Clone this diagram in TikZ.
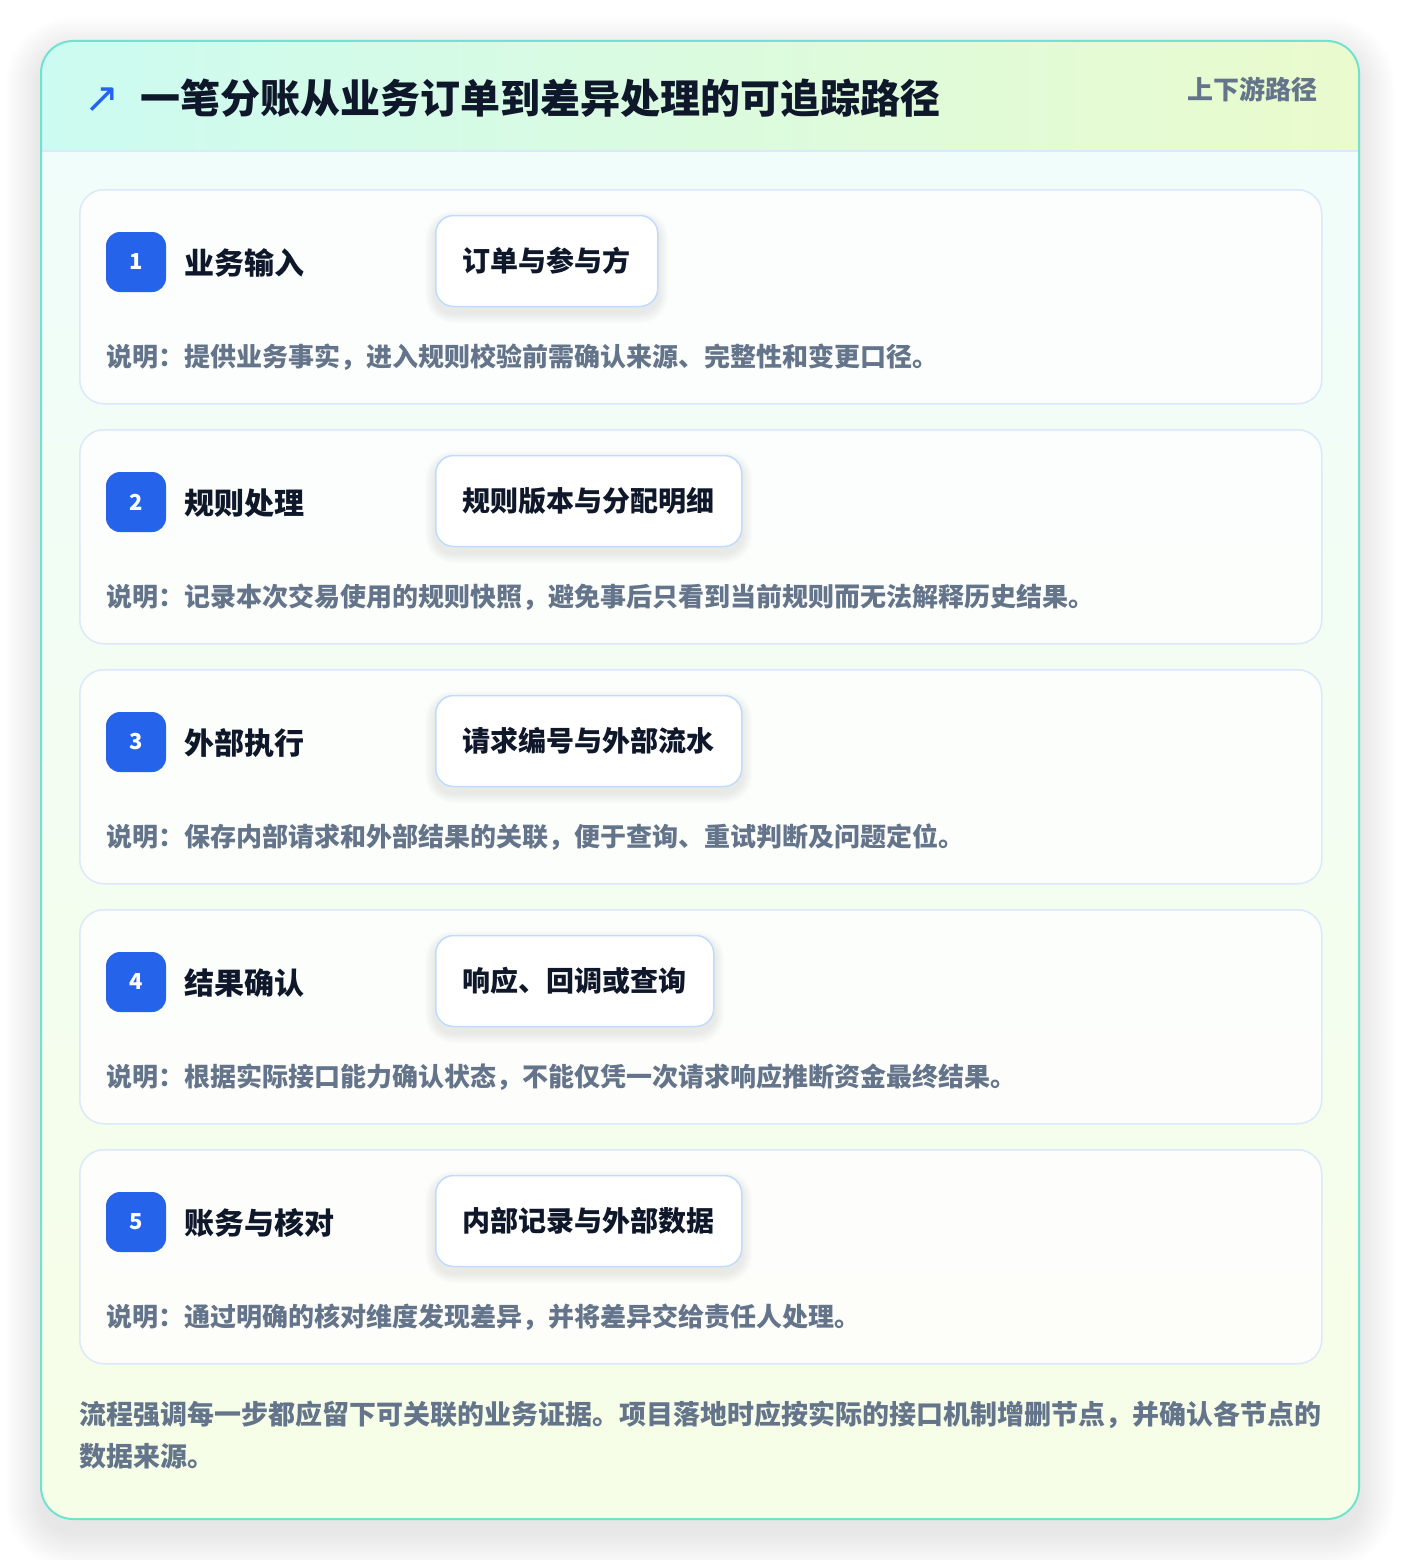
\documentclass[tikz,border=0pt]{standalone}
\usepackage{fontspec}
\setmainfont{Noto Sans CJK SC}
\newfontfamily\arrowfont{DejaVu Sans}
\usetikzlibrary{calc}
\pgfdeclarelayer{back}
\pgfdeclarelayer{soft}
\pgfsetlayers{back,soft,main}
\definecolor{cardline}{HTML}{6FE3CF}
\definecolor{headL}{HTML}{CCFBF1}
\definecolor{headR}{HTML}{EAFBCD}
\definecolor{bodyT}{HTML}{F0FDFA}
\definecolor{bodyB}{HTML}{F7FEE7}
\definecolor{stepline}{HTML}{DCE8FB}
\definecolor{chipline}{HTML}{BFDBFE}
\definecolor{badgeblue}{HTML}{2563EB}
\definecolor{ink}{HTML}{0F172A}
\definecolor{note}{HTML}{64748B}
\tikzset{
  stepcard/.style={draw=stepline, line width=1.5pt, fill=white, fill opacity=0.8, rounded corners=24pt, minimum width=1242pt, minimum height=214pt, anchor=north west, inner sep=0pt},
  badge/.style={fill=badgeblue, text=white, rounded corners=14pt, minimum size=60pt, inner sep=0pt, font=\fontsize{22}{22}\selectfont\bfseries},
  steptitle/.style={anchor=west, inner sep=0pt, text=ink, font=\fontsize{30}{30}\selectfont\bfseries},
  chipbox/.style={draw=chipline, line width=1.5pt, fill=white, rounded corners=18pt, minimum height=91pt, inner xsep=27pt, anchor=west, text=ink, font=\fontsize{28}{28}\selectfont\bfseries},
  softshade/.style={fill=black, opacity=0.007},
  stepnote/.style={anchor=west, inner sep=0pt, text=note, font=\fontsize{26}{26}\selectfont\bfseries},
  footnote/.style={anchor=west, inner sep=0pt, text=note, font=\fontsize{27}{27}\selectfont\bfseries}
}
\begin{document}
\begin{tikzpicture}[x=1pt, y=-1pt]
    \useasboundingbox (0,0) rectangle (1400,1560);
    \begin{pgfonlayer}{back}
    \fill[white] (0,0) rectangle (1400,1560);
    \foreach \k in {1,...,24}{
        \pgfmathsetmacro\r{32+1.5*\k}
        \fill[black, opacity=0.0038, rounded corners=\r pt] (41-1.5*\k,53-1.5*\k) rectangle (1359+1.5*\k,1533+1.5*\k);
    }
    \begin{scope}
        \clip[rounded corners=32pt] (41,41) rectangle (1359,1519);
        \shade[left color=headL, right color=headR] (41,41) rectangle (1359,151);
        \shade[top color=bodyT, bottom color=bodyB] (41,151) rectangle (1359,1519);
        \draw[stepline, line width=1.5pt] (41,151) -- (1359,151);
    \end{scope}
    \draw[cardline, line width=2pt, rounded corners=32pt] (41,41) rectangle (1359,1519);
    \end{pgfonlayer}
    \node[text=badgeblue, font=\arrowfont\fontsize{42}{42}\selectfont] (arrow) at (102,100) {↗};
    \node[anchor=west, inner sep=0pt, text=ink, font=\fontsize{40}{40}\selectfont\bfseries] (title) at (140,98) {一笔分账从业务订单到差异处理的可追踪路径};
    \node[anchor=east, inner sep=0pt, text=note, font=\fontsize{26}{26}\selectfont\bfseries] (tag) at (1318,89) {上下游路径};
    \foreach \i/\name/\chip/\desc in {
        1/业务输入/订单与参与方/说明：提供业务事实，进入规则校验前需确认来源、完整性和变更口径。,
        2/规则处理/规则版本与分配明细/说明：记录本次交易使用的规则快照，避免事后只看到当前规则而无法解释历史结果。,
        3/外部执行/请求编号与外部流水/说明：保存内部请求和外部结果的关联，便于查询、重试判断及问题定位。,
        4/结果确认/响应、回调或查询/说明：根据实际接口能力确认状态，不能仅凭一次请求响应推断资金最终结果。,
        5/账务与核对/内部记录与外部数据/说明：通过明确的核对维度发现差异，并将差异交给责任人处理。}{
        \pgfmathsetmacro\y{189+240*(\i-1)}
        \begin{pgfonlayer}{back}
        \node[stepcard] (card\i) at (79,\y) {};
        \end{pgfonlayer}
        \node[badge] (badge\i) at (136,\y+73) {\i};
        \node[steptitle] (name\i) at (184,\y+74) {\name};
        \node[chipbox] (chip\i) at (435,\y+72) {\chip};
        \begin{pgfonlayer}{soft}
        \foreach \k in {1,...,10}
            \fill[softshade, rounded corners=18pt+\k pt] ($(chip\i.north west)+(-\k,6-\k)$) rectangle ($(chip\i.south east)+(\k,6+\k)$);
        \end{pgfonlayer}
        \node[stepnote] (desc\i) at (106,\y+168) {\desc};
    }
    \node[footnote] (foot1) at (79,1415) {流程强调每一步都应留下可关联的业务证据。项目落地时应按实际的接口机制增删节点，并确认各节点的};
    \node[footnote] (foot2) at (79,1456) {数据来源。};
\end{tikzpicture}
\end{document}
